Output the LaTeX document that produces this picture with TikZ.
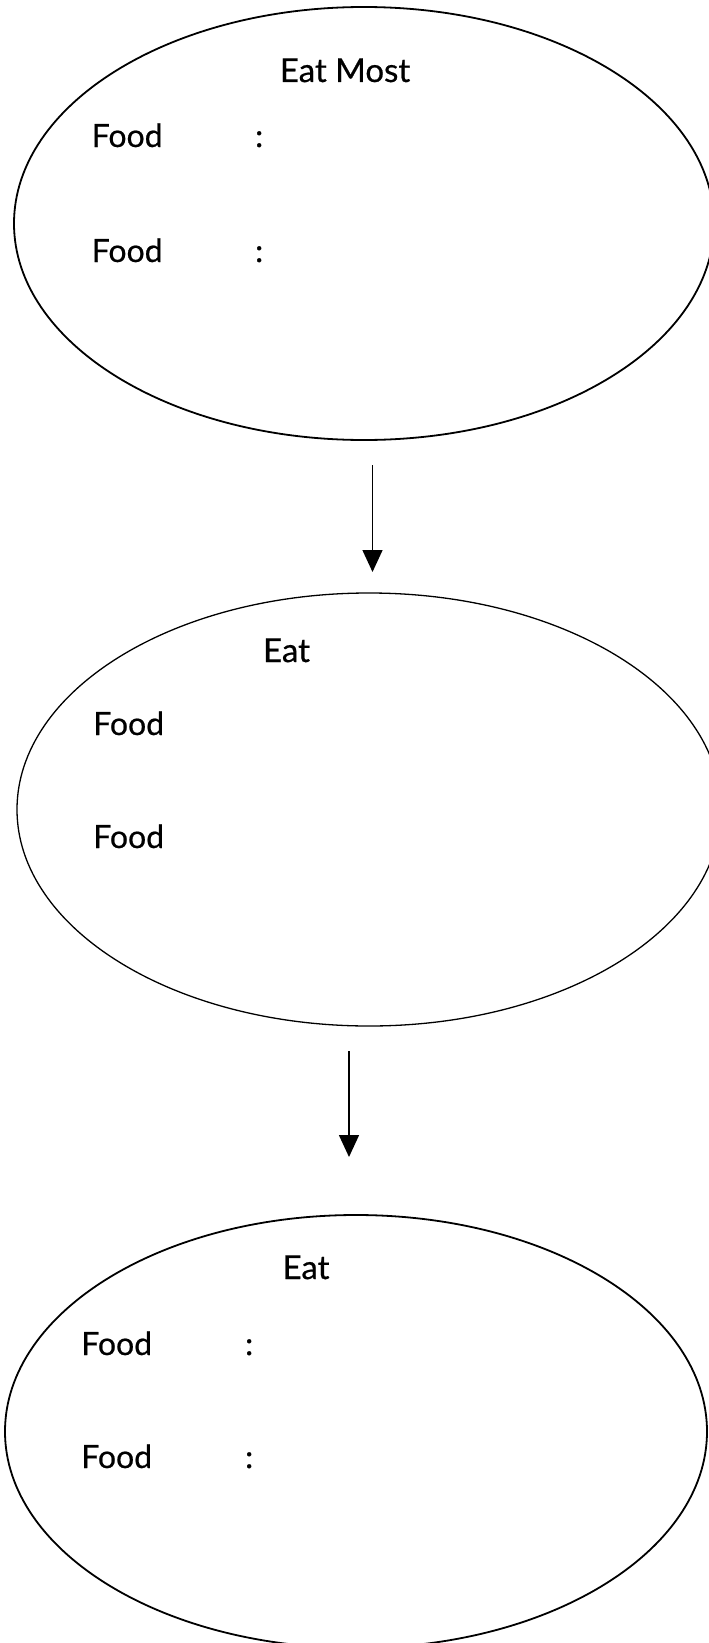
\documentclass[tikz,border=0pt]{standalone}
\usepackage{fontspec}
\setmainfont[FakeBold=0.6]{Lato}
\usetikzlibrary{shapes.geometric,arrows.meta}
\begin{document}
\begin{tikzpicture}[x=1pt,y=-1pt,
  oval/.style={draw, ellipse, inner sep=0pt, line width=1.8pt},
  lbl/.style={inner sep=0pt, anchor=base west, font=\fontsize{32}{36}\selectfont},
  ttl/.style={inner sep=0pt, anchor=base, font=\fontsize{33}{36}\selectfont},
  conn/.style={line width=1.5pt, -{Triangle[width=20pt,length=22pt]}}]
\useasboundingbox (0,0) rectangle (709,1643);
% ellipse 1
\node[oval, minimum width=700pt, minimum height=433pt] (e1) at (364,223.5) {};
\node[ttl] (t1) at (345,82) {Eat Most};
\node[lbl] (f11) at (91.5,147) {Food};
\node[lbl] (c11) at (255,147) {:};
\node[lbl] (f12) at (91.5,262) {Food};
\node[lbl] (c12) at (255,262) {:};
% arrow 1
\coordinate (a1s) at (372.5,465);
\coordinate (a1e) at (372.5,572);
\draw[conn] (a1s) -- (a1e);
% ellipse 2
\node[oval, line width=1.3pt, minimum width=704pt, minimum height=433pt] (e2) at (369,809.5) {};
\node[ttl] (t2) at (286.5,662) {Eat};
\node[lbl] (f21) at (93,735) {Food};
\node[lbl] (f22) at (93,848) {Food};
% arrow 2
\coordinate (a2s) at (349,1051);
\coordinate (a2e) at (349,1157);
\draw[conn] (a2s) -- (a2e);
% ellipse 3
\node[oval, minimum width=702pt, minimum height=433pt] (e3) at (356,1431.5) {};
\node[ttl] (t3) at (306,1279) {Eat};
\node[lbl] (f31) at (81,1355) {Food};
\node[lbl] (c31) at (245,1355) {:};
\node[lbl] (f32) at (81,1468) {Food};
\node[lbl] (c32) at (245,1468) {:};
\end{tikzpicture}
\end{document}
